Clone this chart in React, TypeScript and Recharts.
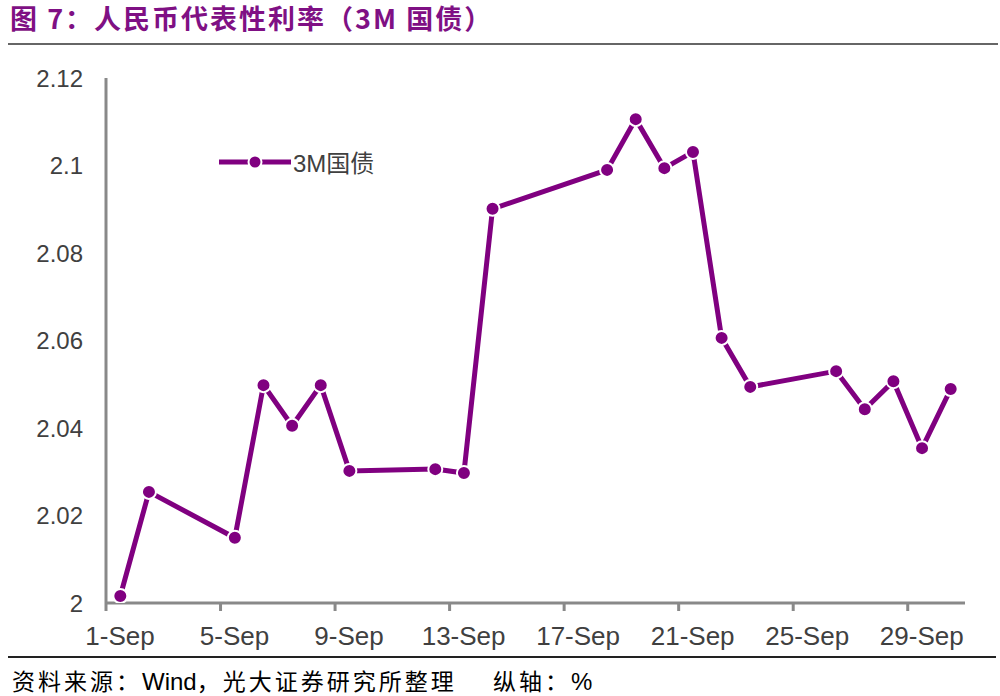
import React from 'react';
import { LineChart, Line, XAxis, YAxis } from 'recharts';

const days = [1, 2, 5, 6, 7, 8, 9, 12, 13, 14, 18, 19, 20, 21, 22, 23, 26, 27, 28, 29, 30];
const yield3M = [
  2.0016, 2.0254, 2.0149, 2.0498, 2.0405, 2.0498, 2.0302, 2.0306, 2.0297, 2.0901, 2.099,
  2.1106, 2.0994, 2.1031, 2.0606, 2.0494, 2.053, 2.0443, 2.0507, 2.0354, 2.0489,
];
const xTicks = [1, 5, 9, 13, 17, 21, 25, 29];
const yTicks = [2, 2.02, 2.04, 2.06, 2.08, 2.1, 2.12];

const PURPLE = '#800080';
const AXIS = '#898989';
const LABEL = '#404040';
const FONT = 'Arial, "Liberation Sans", "Noto Sans CJK SC", sans-serif';
const CJK = '"Noto Sans CJK SC", sans-serif';

// points sit in the middle of each day, ticks on the day boundary
const data = days.map((d, i) => ({ x: d + 0.5, v: yield3M[i] }));

const Dot = (props: any) => {
  const { cx, cy } = props;
  if (cx == null || cy == null) return null;
  return <circle cx={cx} cy={cy} r={7} fill={PURPLE} stroke="#fff" strokeWidth={2} />;
};

// label is centred in its day, like an Excel date axis
const DayTick = (props: any) => {
  const { x, y, payload } = props;
  return (
    <text x={x + 14} y={y} dy="0.71em" textAnchor="middle" fill={LABEL} fontSize={26} fontFamily={FONT}>
      {`${payload.value}-Sep`}
    </text>
  );
};

export default function App() {
  return (
    <div style={{ position: 'absolute', left: 0, top: 0, width: 1000, height: 696, background: '#fff' }}>
      <div
        style={{
          position: 'absolute', left: 10, top: -2, fontFamily: CJK,
          fontWeight: 700, fontSize: 27, color: '#7f1084', letterSpacing: 2, whiteSpace: 'pre',
        }}
      >
        图 7：人民币代表性利率（3M 国债）
      </div>
      <div style={{ position: 'absolute', left: 8, top: 43, width: 990, height: 2, background: '#666' }} />

      <LineChart width={1000} height={696} data={data} margin={{ top: 78, right: 35, bottom: 0, left: 0 }}>
        <XAxis
          dataKey="x"
          type="number"
          domain={[1, 31]}
          ticks={xTicks}
          interval={0}
          axisLine={{ stroke: AXIS, strokeWidth: 3 }}
          tickLine={{ stroke: AXIS, strokeWidth: 3 }}
          tickSize={8}
          tickMargin={16}
          tick={<DayTick />}
          height={93}
        />
        <YAxis
          type="number"
          domain={[2, 2.12]}
          ticks={yTicks}
          interval={0}
          allowDataOverflow
          axisLine={{ stroke: AXIS, strokeWidth: 3 }}
          tickLine={false}
          tickSize={0}
          tickMargin={23}
          tick={{ fill: LABEL, fontSize: 24, fontFamily: FONT }}
          width={106}
        />
        <Line
          type="linear"
          dataKey="v"
          name="3M国债"
          stroke={PURPLE}
          strokeWidth={5}
          dot={<Dot />}
          activeDot={false}
          isAnimationActive={false}
        />
      </LineChart>

      <div
        style={{
          position: 'absolute', left: 218, top: 144, display: 'flex', alignItems: 'center',
          fontFamily: FONT, fontSize: 24, color: LABEL, whiteSpace: 'nowrap',
        }}
      >
        <svg width={74} height={16}>
          <line x1={1} y1={8} x2={73} y2={8} stroke={PURPLE} strokeWidth={5} />
          <circle cx={37} cy={8} r={6.5} fill={PURPLE} stroke="#fff" strokeWidth={2} />
        </svg>
        <span style={{ marginLeft: 1 }}>3M国债</span>
      </div>

      <div style={{ position: 'absolute', left: 8, top: 656, width: 988, height: 1.5, background: '#222' }} />
      <div
        style={{
          position: 'absolute', left: 12, top: 663, fontFamily: CJK,
          fontSize: 23, color: '#000', whiteSpace: 'pre', letterSpacing: 3,
        }}
      >
        资料来源：<span style={{ fontFamily: FONT, fontSize: 24, letterSpacing: 0 }}>Wind</span>，光大证券研究所整理
      </div>
      <div
        style={{
          position: 'absolute', left: 493, top: 663, fontFamily: CJK,
          fontSize: 23, color: '#000', whiteSpace: 'pre', letterSpacing: 3,
        }}
      >
        纵轴：<span style={{ fontFamily: FONT, fontSize: 24 }}>%</span>
      </div>
    </div>
  );
}
